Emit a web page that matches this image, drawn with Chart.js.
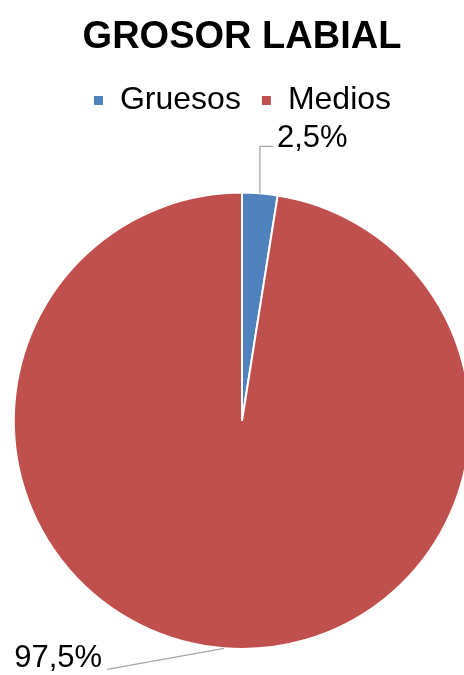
<!DOCTYPE html>
<html>
<head>
<meta charset="utf-8">
<script src="https://cdn.jsdelivr.net/npm/chart.js@4"></script>
<style>
  html, body { margin: 0; padding: 0; overflow: hidden; background: #fff; }
</style>
</head>
<body>
<canvas id="myChart" width="484" height="675"></canvas>
<script>
var categories = ['Gruesos', 'Medios'];
var values = [2.5, 97.5];
var colors = ['#4F81BD', '#C0504D'];
var chartTitle = 'GROSOR LABIAL';

// extra space between legend and pie
var legendSpace = {
    id: 'legendSpace',
    beforeInit: function(chart) {
        var fit = chart.legend.fit;
        chart.legend.fit = function() {
            fit.bind(chart.legend)();
            this.height += 65;
        };
    }
};

// draws the percentage labels with leader lines
var leaderLabels = {
    id: 'leaderLabels',
    afterDatasetsDraw: function(chart) {
        var ctx = chart.ctx;
        var arcs = chart.getDatasetMeta(0).data;
        ctx.save();
        ctx.font = '31px "Liberation Sans", Arial, sans-serif';
        ctx.fillStyle = '#000';
        ctx.strokeStyle = '#A6A6A6';
        ctx.lineWidth = 1.3;
        for (var i = 0; i < arcs.length; i++) {
            var a = arcs[i];
            var mid = (a.startAngle + a.endAngle) / 2;
            var px = a.x + Math.cos(mid) * a.outerRadius;
            var py = a.y + Math.sin(mid) * a.outerRadius;
            var text = String(values[i]).replace('.', ',') + '%';
            ctx.beginPath();
            ctx.moveTo(px, py);
            if (i == 0) {
                ctx.lineTo(px, py - 47);
                ctx.lineTo(px + 13, py - 47);
                ctx.stroke();
                ctx.textAlign = 'left';
                ctx.textBaseline = 'alphabetic';
                ctx.fillText(text, px + 17, py - 46);
            } else {
                ctx.lineTo(px - 117, py + 21);
                ctx.stroke();
                ctx.textAlign = 'right';
                ctx.textBaseline = 'alphabetic';
                ctx.fillText(text, px - 122, py + 19);
            }
        }
        ctx.restore();
    }
};

var ctx = document.getElementById('myChart');
var myPieChart = new Chart(ctx, {
    type: 'pie',
    data: {
        labels: categories,
        datasets: [{
            data: values,
            backgroundColor: colors,
            borderColor: '#fff',
            borderWidth: 2
        }]
    },
    options: {
        responsive: false,
        animation: false,
        devicePixelRatio: 1,
        layout: { padding: { top: 0, bottom: 25, left: 0, right: 0 } },
        plugins: {
            title: {
                display: true,
                text: chartTitle,
                color: '#000',
                font: { family: '"Liberation Sans", Arial, sans-serif', size: 38, weight: 'bold' },
                padding: { top: 15, bottom: 4 }
            },
            legend: {
                position: 'top',
                labels: {
                    color: '#000',
                    font: { family: '"Liberation Sans", Arial, sans-serif', size: 32 },
                    boxWidth: 11,
                    boxHeight: 11,
                    padding: 20
                }
            },
            tooltip: { enabled: false }
        }
    },
    plugins: [legendSpace, leaderLabels]
});
</script>
</body>
</html>
